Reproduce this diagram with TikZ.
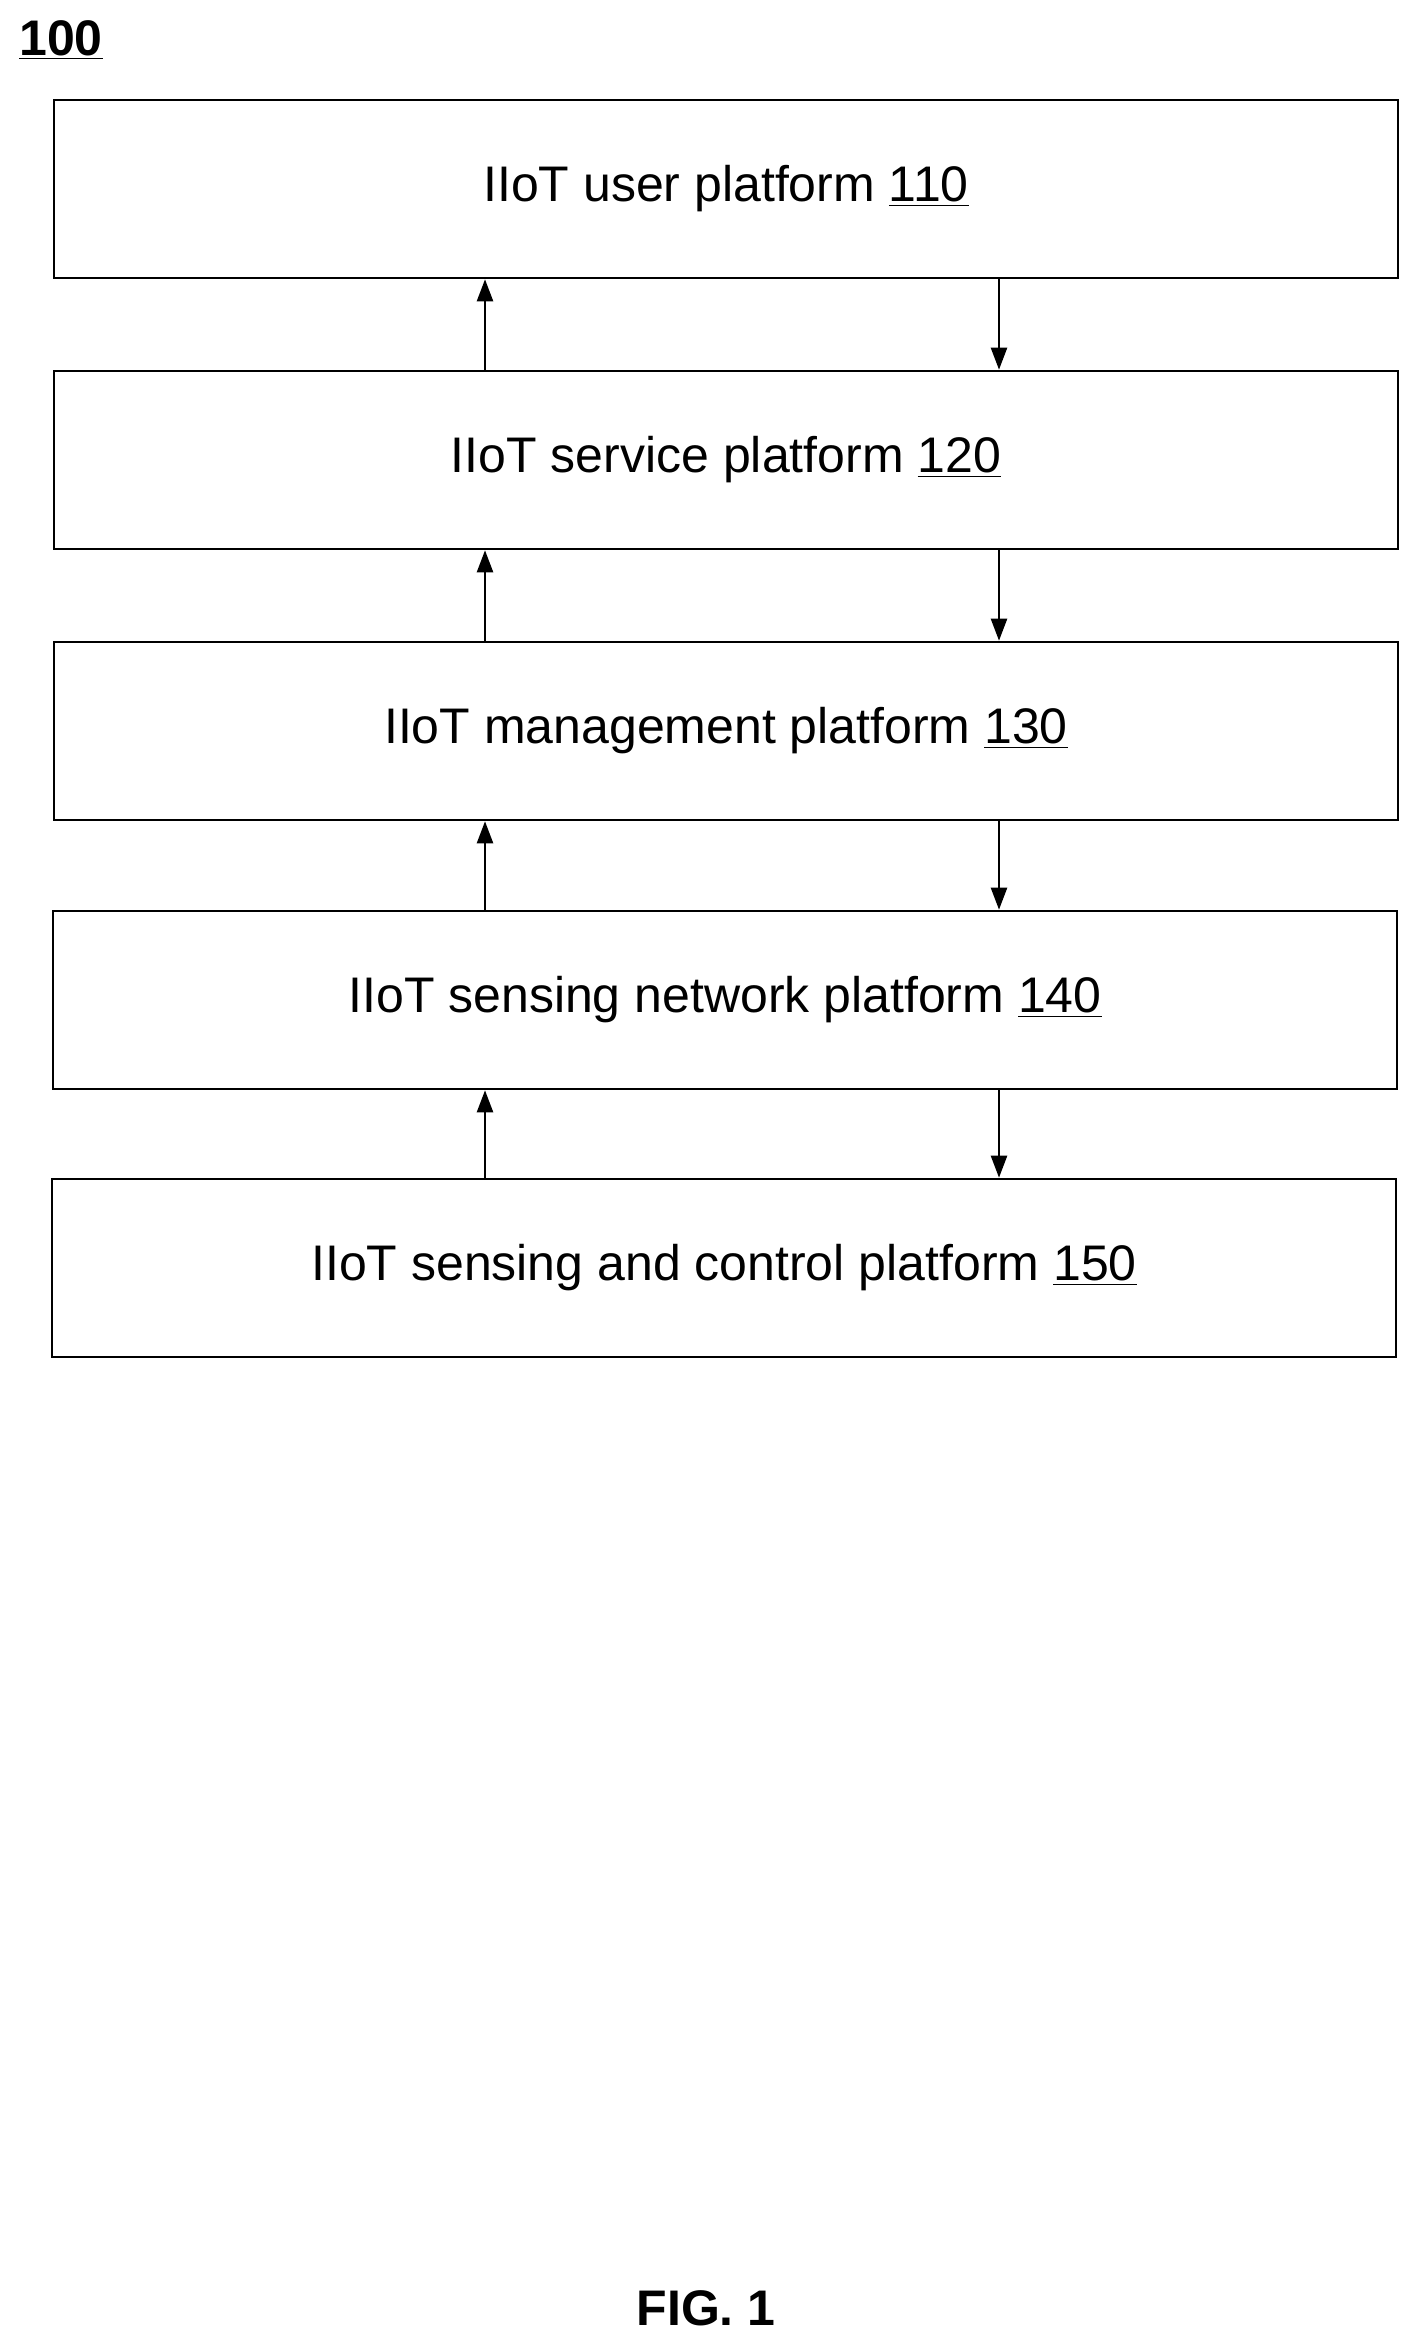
\documentclass[tikz,border=0pt]{standalone}
\usepackage{fontspec}
\setmainfont{Liberation Sans}
\usetikzlibrary{arrows.meta}
\begin{document}
\begin{tikzpicture}[x=0.5pt,y=-0.5pt,
  box/.style={draw,line width=1.3pt,minimum width=672pt,minimum height=89pt,inner sep=0pt,font=\fontsize{25}{30}\selectfont},
  arr/.style={line width=1.2pt,-{Triangle[length=11pt,width=8pt]}}]
\useasboundingbox (0,0) rectangle (1418,2338);
\node[font=\bfseries\fontsize{25}{30}\selectfont] (t) at (61,40) {\underline{100}};
\node[box] (b1) at (726,189) {\raisebox{-3pt}{IIoT user platform \underline{110}}};
\node[box] (b2) at (726,460) {\raisebox{-3pt}{IIoT service platform \underline{120}}};
\node[box] (b3) at (726,731) {\raisebox{-3pt}{IIoT management platform \underline{130}}};
\node[box] (b4) at (725,1000) {\raisebox{-3pt}{IIoT sensing network platform \underline{140}}};
\node[box] (b5) at (724,1268) {\raisebox{-3pt}{IIoT sensing and control platform \underline{150}}};
\foreach \a/\b in {b1/b2,b2/b3,b3/b4,b4/b5}{
  \draw[arr] (\b.north -| 485,0) -- (\a.south -| 485,0);
  \draw[arr] (\a.south -| 999,0) -- (\b.north -| 999,0);
}
\node[font=\bfseries\fontsize{25}{30}\selectfont] (f) at (706,2308) {FIG. 1};
\end{tikzpicture}
\end{document}
